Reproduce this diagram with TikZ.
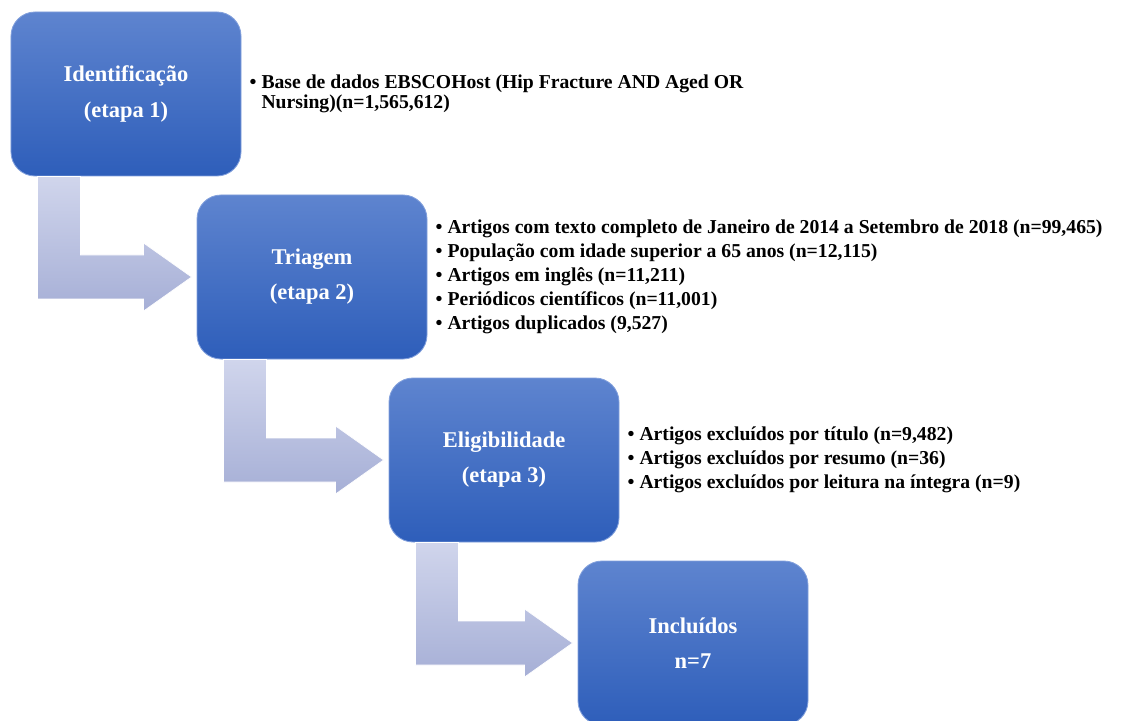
\documentclass[tikz,border=0pt]{standalone}
\usepackage{fontspec}
\setmainfont{Liberation Serif}
\usetikzlibrary{positioning, calc, shapes}
\definecolor{azulclaro}{RGB}{94,132,207}
\definecolor{azulescuro}{RGB}{46,94,186}
\definecolor{azulborda}{RGB}{130,160,220}
\definecolor{setaclara}{RGB}{208,213,236}
\definecolor{setaescura}{RGB}{166,175,214}
\tikzstyle{etapa} = [rectangle, draw=azulborda, line width=0.6pt, top color=azulclaro, bottom color=azulescuro, rounded corners=0.6cm, minimum width=5.75cm, minimum height=4.1cm, text=white, align=center, font=\bfseries\fontsize{16}{25}\selectfont]
\tikzstyle{lista} = [align=left, inner sep=0pt, font=\bfseries\fontsize{14}{14}\selectfont]
\tikzstyle{seta}  = [top color=setaclara, bottom color=setaescura, draw=white, line width=0.5pt]

\begin{document}
\begin{tikzpicture}
    \clip (0,0) rectangle (28.325,-18.025);

    % etapas
    \node [etapa] (ident) at (3.15,-2.35) {Identificação\\(etapa 1)};
    \node [etapa, on grid, below right=4.575cm and 4.65cm of ident] (triag) {Triagem\\(etapa 2)};
    \node [etapa, on grid, below right=4.575cm and 4.8cm of triag] (eleg) {Eligibilidade\\(etapa 3)};
    \node [etapa, on grid, below right=4.575cm and 4.725cm of eleg] (incl) {Incluídos\\n=7};

    % listas
    \node [lista, right=0.2cm of ident] (l1) {\textbullet\ Base de dados EBSCOHost (Hip Fracture AND Aged OR\\
        \phantom{\textbullet\ }Nursing)(n=1,565,612)};
    \node [lista, right=0.2cm of triag, font=\bfseries\fontsize{14}{17}\selectfont] (l2) {%
        \textbullet\ Artigos com texto completo de Janeiro de 2014 a Setembro de 2018 (n=99,465)\\
        \textbullet\ População com idade superior a 65 anos (n=12,115)\\
        \textbullet\ Artigos em inglês (n=11,211)\\
        \textbullet\ Periódicos científicos (n=11,001)\\
        \textbullet\ Artigos duplicados (9,527)};
    \node [lista, right=0.2cm of eleg, font=\bfseries\fontsize{14}{17}\selectfont] (l3) {%
        \textbullet\ Artigos excluídos por título (n=9,482)\\
        \textbullet\ Artigos excluídos por resumo (n=36)\\
        \textbullet\ Artigos excluídos por leitura na íntegra (n=9)};

    % setas
    \foreach \a/\b in {ident/triag, triag/eleg, eleg/incl}
        \draw [seta] let \p1=(\a.south west), \p2=(\b.west) in
            (\x1+0.675cm,\y1) -- (\x1+1.75cm,\y1) -- (\x1+1.75cm,\y2+0.55cm)
            -- (\x2-1.325cm,\y2+0.55cm) -- (\x2-1.325cm,\y2+0.85cm) -- (\x2-0.125cm,\y2)
            -- (\x2-1.325cm,\y2-0.85cm) -- (\x2-1.325cm,\y2-0.55cm) -- (\x1+0.675cm,\y2-0.55cm) -- cycle;
\end{tikzpicture}
\end{document}
